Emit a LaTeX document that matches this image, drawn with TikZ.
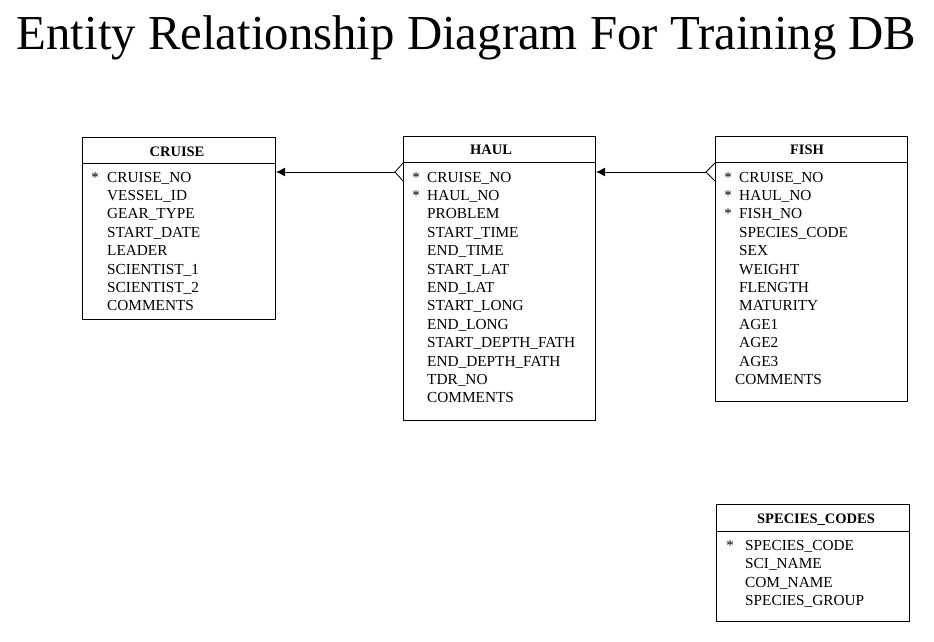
\documentclass[tikz,border=0pt]{standalone}
\usepackage{fontspec}
\setmainfont{Liberation Serif}
\usetikzlibrary{arrows.meta}
\begin{document}
\begin{tikzpicture}[x=1pt,y=-1pt,
  tbl/.style={draw, line width=1pt, anchor=north west, inner sep=0pt, fill=white},
  hdr/.style={font=\fontsize{14.5}{16}\selectfont\bfseries, anchor=base, inner sep=0pt},
  fld/.style={font=\fontsize{15.3}{17}\selectfont, anchor=base west, inner sep=0pt},
  star/.style={font=\fontsize{15}{17}\selectfont, anchor=base, inner sep=0pt},
  rel/.style={line width=1pt, -{Latex[length=9pt,width=9pt]}},
  foot/.style={line width=0.8pt}]
\useasboundingbox (0,0) rectangle (934,641);
\fill[white] (0,0) rectangle (934,641);
% title
\node[font=\fontsize{48.8}{52}\selectfont, anchor=base, inner sep=0pt] (title) at (466.5,49) {Entity Relationship Diagram For Training DB};
% tables
\node[tbl, minimum width=193pt, minimum height=182pt] (cruise) at (82,137) {};
\node[tbl, minimum width=192pt, minimum height=284pt] (haul) at (403,136) {};
\node[tbl, minimum width=192pt, minimum height=265pt] (fish) at (715,136) {};
\node[tbl, minimum width=193pt, minimum height=117pt] (spec) at (716,504) {};
% header separators
\draw[line width=1pt] ([yshift=-26pt]cruise.north west) -- ([yshift=-26pt]cruise.north east);
\draw[line width=1pt] ([yshift=-26pt]haul.north west) -- ([yshift=-26pt]haul.north east);
\draw[line width=1pt] ([yshift=-26pt]fish.north west) -- ([yshift=-26pt]fish.north east);
\draw[line width=1pt] ([yshift=-27pt]spec.north west) -- ([yshift=-27pt]spec.north east);
% headers
\node[hdr] (cruiseH) at (177,156) {CRUISE};
\node[hdr] (haulH) at (491,154) {HAUL};
\node[hdr] (fishH) at (807,154) {FISH};
\node[hdr] (specH) at (816,523) {SPECIES\_CODES};
% CRUISE fields
\foreach \t [count=\i from 0] in {CRUISE\_NO,VESSEL\_ID,GEAR\_TYPE,START\_DATE,LEADER,SCIENTIST\_1,SCIENTIST\_2,COMMENTS}
  \node[fld] (cf\i) at (107,182+18.4*\i) {\t};
\node[star] (cs0) at (95,182) {*};
% HAUL fields
\foreach \t [count=\i from 0] in {CRUISE\_NO,HAUL\_NO,PROBLEM,START\_TIME,END\_TIME,START\_LAT,END\_LAT,START\_LONG,END\_LONG,START\_DEPTH\_FATH,END\_DEPTH\_FATH,TDR\_NO,COMMENTS}
  \node[fld] (hf\i) at (427,182+18.4*\i) {\t};
\node[star] (hs0) at (416,182) {*};
\node[star] (hs1) at (416,200.4) {*};
% FISH fields
\foreach \t [count=\i from 0] in {CRUISE\_NO,HAUL\_NO,FISH\_NO,SPECIES\_CODE,SEX,WEIGHT,FLENGTH,MATURITY,AGE1,AGE2,AGE3}
  \node[fld] (ff\i) at (739,182+18.4*\i) {\t};
\node[fld] (ffc) at (735,384.4) {COMMENTS};
\node[star] (fs0) at (728,182) {*};
\node[star] (fs1) at (728,200.4) {*};
\node[star] (fs2) at (728,218.8) {*};
% SPECIES_CODES fields
\foreach \t [count=\i from 0] in {SPECIES\_CODE,SCI\_NAME,COM\_NAME,SPECIES\_GROUP}
  \node[fld] (sf\i) at (745,550.5+18.4*\i) {\t};
\node[star] (ss0) at (730,550.5) {*};
% relationships
\coordinate (hc) at (395,172);
\coordinate (fh) at (706,172);
\draw[foot] (haul.north west |- 0,163) -- (hc) -- (haul.north west |- 0,181);
\draw[rel] (hc) -- (cruise.east |- hc);
\draw[foot] (fish.north west |- 0,163) -- (fh) -- (fish.north west |- 0,181);
\draw[rel] (fh) -- (haul.east |- fh);
\end{tikzpicture}
\end{document}
